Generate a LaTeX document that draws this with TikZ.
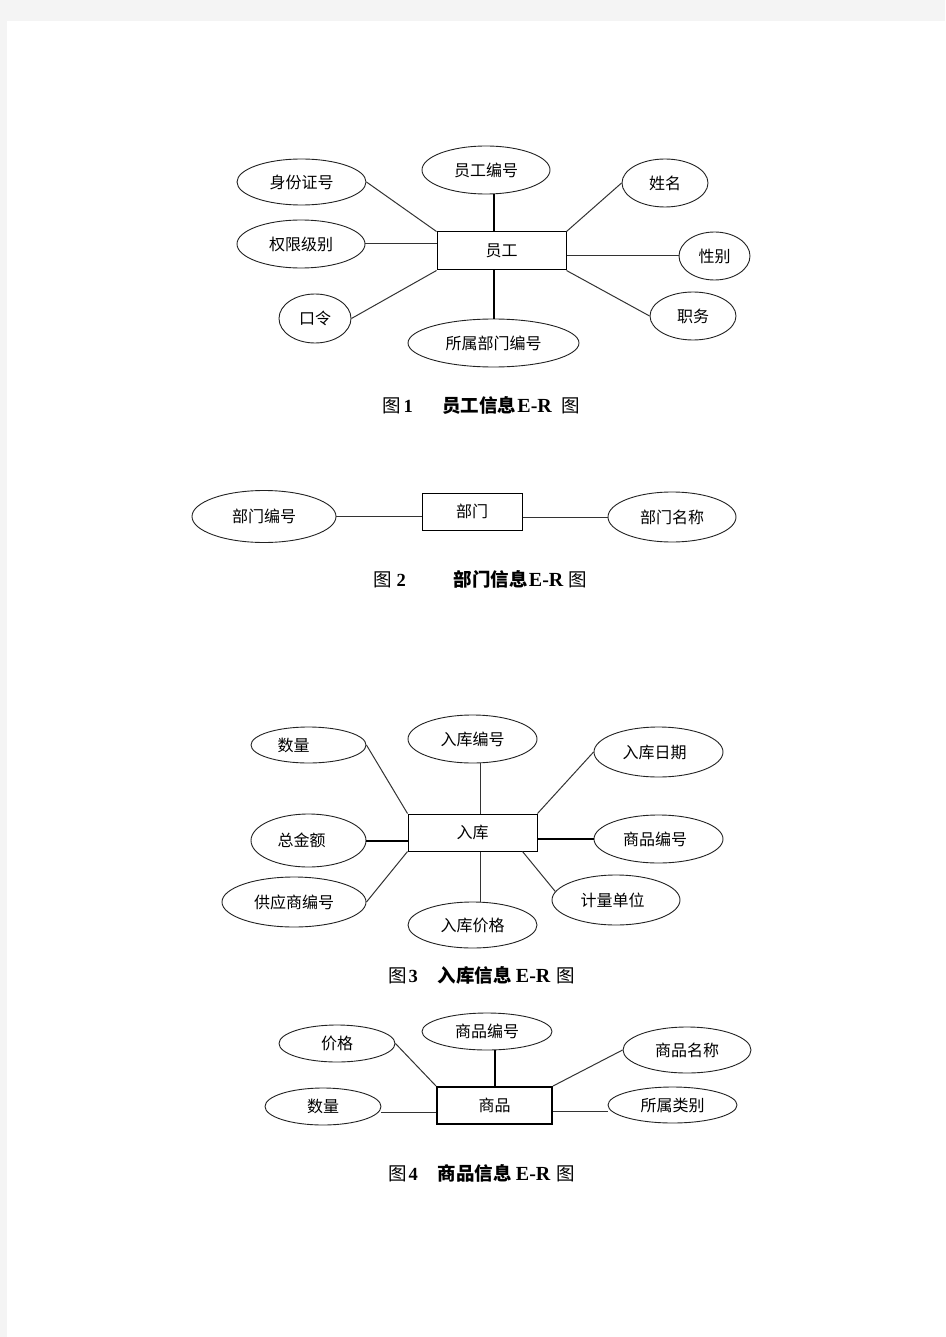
\documentclass[tikz,border=0pt]{standalone}
\usepackage{fontspec}
\setmainfont{Liberation Serif}
\newfontfamily\cjk{Noto Sans CJK SC}
\usetikzlibrary{shapes.geometric}
\definecolor{pagebg}{HTML}{F4F4F4}
\definecolor{ink}{HTML}{222222}
\definecolor{lineink}{HTML}{333333}
\tikzset{
  attr/.style={ellipse,draw=ink,line width=0.9pt,inner sep=0pt,font=\cjk\fontsize{16}{16}\selectfont},
  ent/.style={rectangle,draw=black,line width=1pt,inner sep=0pt,font=\cjk\fontsize{16}{16}\selectfont},
  sz/.style 2 args={minimum width=#1pt,minimum height=#2pt},
  conn/.style={draw=lineink,line width=1pt},
  boldconn/.style={draw=black,line width=2pt},
  capt/.style={anchor=west,inner sep=0pt,font=\fontsize{18.5}{20}\selectfont}
}
\newcommand{\ER}{\textbf{\fontsize{20}{20}\selectfont E-R}}
\begin{document}
\begin{tikzpicture}[x=1pt,y=-1pt]
\useasboundingbox (0,0) rectangle (945,1337);
\fill[white] (0,0) rectangle (945,1337);
\fill[pagebg] (0,0) rectangle (945,21);
\fill[pagebg] (0,0) rectangle (7,1337);

% ---------- Figure 1 ----------
\node[ent,sz={129}{38}] (e1) at (501.5,251) {员工};
\node[attr,sz={128}{48}] (bh1) at (486,170) {员工编号};
\node[attr,sz={129}{46}] (sfz) at (301.5,182) {身份证号};
\node[attr,sz={128}{48}] (qx) at (301,244) {权限级别};
\node[attr,sz={72}{49}] (kl) at (315,318.5) {口令};
\node[attr,sz={171}{48}] (ss) at (493.5,343) {所属部门编号};
\node[attr,sz={86}{48}] (xm) at (665,183) {姓名};
\node[attr,sz={71}{48}] (xb) at (714.5,256) {性别};
\node[attr,sz={86}{48}] (zw) at (693,316) {职务};

\draw[conn] (sfz.east) -- (e1.north west);
\draw[boldconn] ([xshift=8pt]bh1.south) -- ([xshift=-7.5pt]e1.north);
\draw[conn] (qx.east) -- (qx.east -| e1.west);
\draw[conn] (kl.east) -- (e1.south west);
\draw[boldconn] (ss.north |- e1.south) -- (ss.north);
\draw[conn] (e1.north east) -- (xm.west);
\draw[conn] (xb.west -| e1.east) -- (xb.west);
\draw[conn] (e1.south east) -- (zw.west);

\node[capt] (c1) at (382,405) {{\cjk 图}\hspace{3pt}\textbf{1}\hspace{29.5pt}{\cjk\bfseries 员工信息}\hspace{1pt}\ER\hspace{9pt}{\cjk 图}};

% ---------- Figure 2 ----------
\node[ent,sz={100}{37}] (e2) at (472,511.5) {部门};
\node[attr,sz={144}{52}] (bmbh) at (264,516.5) {部门编号};
\node[attr,sz={128}{50}] (bmmc) at (672,517) {部门名称};

\draw[conn] (bmbh.east) -- (bmbh.east -| e2.west);
\draw[conn] (bmmc.west -| e2.east) -- (bmmc.west);

\node[capt] (c2) at (373,579) {{\cjk 图}\hspace{5pt}\textbf{2}\hspace{48pt}{\cjk\bfseries 部门信息}\hspace{1pt}\ER\hspace{5pt}{\cjk 图}};

% ---------- Figure 3 ----------
\node[ent,sz={129}{37}] (e3) at (472.5,832.5) {入库};
\node[attr,sz={129}{48}] (rkbh) at (472.5,739) {入库编号};
\node[attr,sz={115}{36}] (sl3) at (308.5,745) {\hspace*{-30pt}数量};
\node[attr,sz={115}{53}] (zje) at (308.5,840.5) {\hspace*{-14pt}总金额};
\node[attr,sz={144}{50}] (gys) at (294,902) {供应商编号};
\node[attr,sz={129}{50}] (rkrq) at (658.5,752) {\hspace*{-8pt}入库日期};
\node[attr,sz={129}{48}] (spbh3) at (658.5,839) {\hspace*{-7pt}商品编号};
\node[attr,sz={128}{50}] (jldw) at (616,900) {\hspace*{-7pt}计量单位};
\node[attr,sz={129}{46}] (rkjg) at (472.5,925) {入库价格};

\draw[conn] ([xshift=7.5pt]rkbh.south) -- ([xshift=7.5pt]e3.north);
\draw[conn] ([xshift=7.5pt]e3.south) -- ([xshift=7.5pt]rkjg.north);
\draw[conn] (sl3.east) -- (e3.north west);
\draw[boldconn] (zje.east) -- (zje.east -| e3.west);
\draw[conn] (gys.east) -- (e3.south west);
\draw[conn] (e3.north east) -- (rkrq.west);
\draw[boldconn] (spbh3.west -| e3.east) -- (spbh3.west);
\draw[conn] ([xshift=-15pt]e3.south east) -- (jldw.172);

\node[capt] (c3) at (388,975) {{\cjk 图}\hspace{2pt}\textbf{3}\hspace{20pt}{\cjk\bfseries 入库信息}\hspace{4pt}\ER\hspace{6pt}{\cjk 图}};

% ---------- Figure 4 ----------
\node[ent,sz={115}{37},line width=2pt] (e4) at (494.5,1105.5) {商品};
\node[attr,sz={130}{37}] (spbh4) at (487,1031.5) {商品编号};
\node[attr,sz={116}{37}] (jg) at (337,1043.5) {价格};
\node[attr,sz={116}{37}] (sl4) at (323,1106.5) {数量};
\node[attr,sz={128}{46}] (spmc) at (687,1050) {商品名称};
\node[attr,sz={129}{36}] (sslb) at (672.5,1105) {所属类别};

\draw[boldconn] (e4.north |- spbh4.south) -- (e4.north);
\draw[conn] (jg.east) -- (e4.north west);
\draw[conn] ([yshift=-6pt]sl4.east) -- ([yshift=-6pt]sl4.east -| e4.west);
\draw[conn] (e4.north east) -- (spmc.west);
\draw[conn] ([yshift=-6pt]sslb.west -| e4.east) -- ([yshift=-6pt]sslb.west);

\node[capt] (c4) at (388,1173) {{\cjk 图}\hspace{2pt}\textbf{4}\hspace{20pt}{\cjk\bfseries 商品信息}\hspace{4pt}\ER\hspace{6pt}{\cjk 图}};
\end{tikzpicture}
\end{document}
